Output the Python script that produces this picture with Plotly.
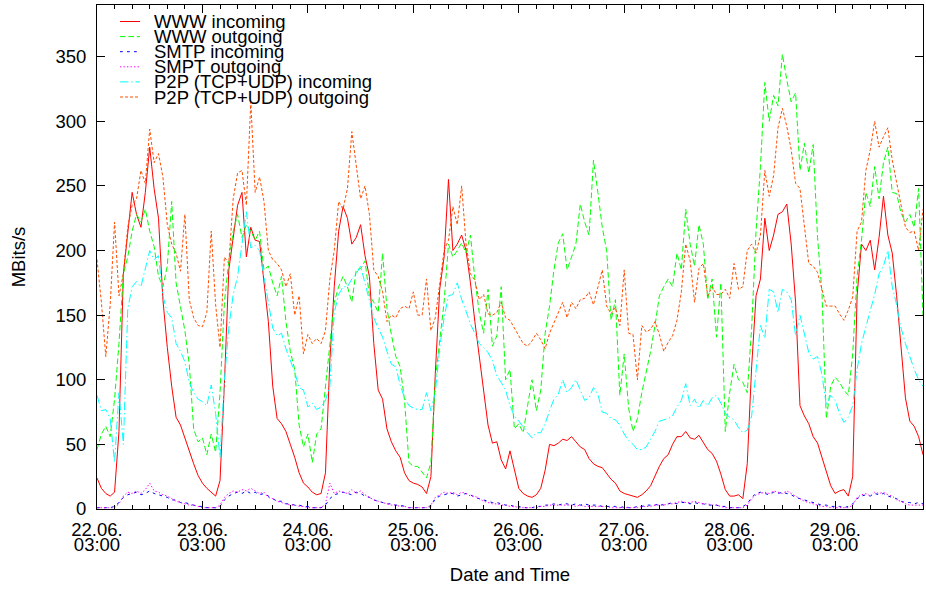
import pandas as pd
import plotly.graph_objects as go

# ---------------- data (hourly samples starting 22.06. 03:00) ----------------
START = "2008-06-22 03:00"
N_HOURS = 189

www_in = [
    24, 16, 12, 10, 13, 60, 182, 213, 245, 228, 218, 245, 280, 248, 225, 162, 125, 95, 71, 65, 55, 44, 35, 26,
    20, 16, 13, 10, 22, 97, 185, 210, 235, 245, 195, 218, 208, 207, 178, 145, 95, 70, 66, 60, 50, 40, 28, 20,
    17, 13, 11, 12, 28, 115, 172, 215, 234, 225, 205, 210, 220, 196, 180, 128, 92, 85, 62, 52, 45, 40, 28, 22,
    20, 19, 17, 12, 25, 105, 170, 195, 255, 200, 205, 212, 200, 175, 145, 118, 92, 65, 51, 52, 38, 31, 45, 30,
    16, 12, 10, 9, 11, 16, 30, 50, 49, 51, 54, 53, 56, 52, 48, 46, 39, 35, 33, 32, 27, 23, 20, 14,
    12, 11, 10, 9, 11, 14, 18, 26, 33, 39, 42, 50, 56, 56, 60, 55, 54, 57, 52, 46, 43, 37, 27, 15,
    10, 10, 11, 8, 35, 110, 165, 178, 225, 200, 212, 228, 230, 236, 205, 160, 80, 72, 66, 56, 51, 40, 28, 18,
    12, 14, 15, 10, 25, 165, 205, 200, 208, 185, 210, 242, 212, 198, 165, 128, 86, 68, 64, 56, 42,
]

www_out = [
    46, 58, 64, 56, 85, 128, 182, 195, 215, 228, 222, 232, 215, 203, 180, 172, 188, 238, 175, 155, 138, 112, 62, 52,
    55, 42, 58, 44, 90, 160, 192, 215, 228, 210, 220, 215, 208, 215, 185, 188, 175, 165, 180, 145, 122, 108, 65, 48,
    58, 36, 58, 62, 95, 130, 160, 172, 180, 172, 160, 185, 186, 192, 165, 160, 152, 198, 155, 135, 118, 110, 84, 36,
    33, 33, 28, 24, 36, 100, 130, 160, 205, 195, 200, 206, 198, 212, 178, 152, 136, 170, 126, 134, 172, 100, 108, 62,
    66, 59, 80, 100, 76, 92, 136, 157, 185, 206, 213, 185, 195, 205, 236, 222, 212, 270, 245, 218, 200, 146, 162, 88,
    120, 78, 60, 70, 90, 105, 122, 142, 165, 172, 178, 172, 198, 185, 232, 205, 188, 220, 205, 162, 178, 133, 175, 60,
    90, 112, 100, 98, 90, 140, 215, 265, 330, 300, 320, 312, 352, 332, 315, 322, 262, 283, 260, 282, 210, 168, 70, 95,
    102, 98, 92, 88, 120, 180, 208, 245, 234, 265, 240, 268, 280, 245, 244, 229, 222, 228, 218, 248, 150,
]

smtp_in = [
    1, 1, 1, 1, 2, 5, 9, 11, 12, 13, 11, 12, 14, 12, 11, 10, 9, 7, 7, 5, 5, 4, 3, 2,
    2, 1, 1, 1, 2, 7, 10, 12, 13, 12, 14, 12, 13, 11, 12, 10, 8, 6, 6, 4, 4, 3, 3, 2,
    2, 1, 1, 1, 3, 8, 11, 12, 13, 12, 11, 13, 12, 10, 9, 7, 6, 5, 4, 4, 3, 3, 2, 1,
    1, 1, 1, 1, 2, 8, 10, 11, 12, 12, 10, 11, 12, 11, 9, 8, 7, 6, 5, 5, 4, 3, 3, 2,
    2, 1, 1, 1, 2, 2, 3, 3, 4, 3, 4, 4, 3, 4, 3, 4, 3, 3, 3, 2, 2, 2, 2, 1,
    2, 1, 1, 2, 2, 3, 3, 3, 4, 3, 4, 5, 4, 5, 5, 4, 5, 4, 4, 3, 3, 3, 2, 2,
    1, 1, 1, 2, 4, 9, 12, 13, 12, 11, 13, 12, 13, 12, 11, 9, 8, 7, 6, 5, 4, 3, 3, 2,
    2, 2, 1, 2, 4, 8, 10, 11, 10, 12, 11, 12, 10, 9, 8, 6, 5, 5, 4, 5, 4,
]

smtp_out = [
    1, 1, 1, 1, 1, 4, 10, 13, 12, 14, 12, 15, 20, 14, 13, 11, 10, 8, 6, 5, 4, 3, 3, 2,
    1, 1, 1, 1, 3, 9, 12, 14, 13, 15, 14, 16, 14, 12, 13, 9, 8, 6, 5, 4, 3, 3, 2, 2,
    1, 1, 1, 1, 4, 20, 12, 14, 13, 12, 15, 12, 14, 11, 9, 7, 6, 5, 4, 3, 3, 2, 2, 1,
    1, 1, 1, 1, 3, 9, 11, 13, 12, 13, 11, 13, 12, 10, 10, 8, 6, 5, 4, 4, 3, 3, 2, 2,
    1, 1, 1, 1, 1, 2, 2, 3, 3, 3, 3, 3, 3, 2, 3, 2, 2, 2, 2, 2, 2, 1, 1, 1,
    1, 1, 1, 1, 2, 2, 2, 3, 3, 3, 4, 4, 5, 6, 5, 5, 6, 5, 4, 4, 3, 3, 2, 1,
    1, 1, 1, 1, 3, 8, 11, 12, 13, 12, 14, 13, 12, 14, 12, 10, 8, 6, 5, 4, 3, 2, 2, 1,
    1, 1, 1, 1, 3, 9, 11, 12, 10, 13, 12, 13, 11, 10, 7, 6, 4, 3, 3, 3, 3,
]

p2p_in = [
    88, 76, 77, 70, 36, 90, 50, 155, 172, 176, 172, 185, 200, 193, 196, 165, 152, 148, 128, 122, 114, 98, 90, 85,
    83, 80, 96, 74, 40, 100, 140, 166, 180, 205, 230, 202, 204, 200, 180, 158, 140, 134, 136, 124, 115, 106, 94, 92,
    79, 82, 77, 79, 84, 95, 152, 166, 172, 172, 178, 182, 188, 175, 160, 148, 140, 133, 122, 112, 110, 96, 86, 80,
    78, 77, 77, 90, 76, 90, 125, 148, 165, 166, 175, 162, 153, 143, 136, 128, 125, 121, 115, 103, 98, 92, 80, 72,
    68, 63, 59, 55, 59, 59, 66, 76, 85, 89, 100, 90, 94, 100, 92, 84, 86, 94, 89, 75, 74, 70, 69, 65,
    58, 53, 50, 46, 46, 48, 54, 60, 68, 69, 70, 72, 79, 84, 97, 80, 85, 78, 84, 80, 86, 88, 82, 74,
    71, 69, 63, 59, 61, 72, 110, 142, 132, 170, 168, 152, 170, 168, 162, 134, 150, 136, 121, 116, 118, 104, 80, 88,
    84, 74, 67, 71, 80, 108, 128, 141, 153, 166, 182, 188, 200, 172, 158, 140, 128, 118, 108, 100, 95,
]

p2p_out = [
    193, 160, 118, 158, 222, 165, 182, 218, 235, 240, 262, 252, 294, 268, 275, 257, 220, 205, 198, 184, 228, 162, 148, 142,
    141, 152, 215, 158, 125, 195, 190, 240, 260, 262, 235, 315, 245, 257, 238, 200, 193, 190, 185, 172, 182, 150, 165, 120,
    135, 128, 132, 128, 138, 178, 200, 238, 232, 248, 292, 265, 240, 250, 228, 185, 180, 168, 145, 150, 148, 155, 157, 155,
    168, 150, 150, 178, 138, 148, 172, 200, 208, 234, 220, 250, 205, 182, 177, 162, 166, 151, 150, 152, 160, 148, 146, 140,
    134, 128, 126, 130, 136, 131, 124, 136, 144, 152, 160, 148, 160, 155, 162, 163, 168, 158, 172, 185, 157, 151, 156, 142,
    185, 136, 135, 100, 142, 137, 139, 145, 135, 122, 129, 134, 146, 168, 205, 192, 160, 186, 190, 165, 172, 166, 166, 170,
    163, 190, 170, 172, 200, 205, 198, 212, 262, 242, 258, 295, 310, 296, 278, 252, 248, 220, 190, 188, 183, 170, 157, 157,
    157, 151, 146, 154, 164, 215, 222, 262, 278, 300, 280, 288, 295, 270, 252, 236, 218, 214, 215, 200, 232,
]

series_names = ["WWW incoming", "WWW outgoing", "SMTP incoming", "SMPT outgoing",
                "P2P (TCP+UDP) incoming", "P2P (TCP+UDP) outgoing"]
series_values = [www_in, www_out, smtp_in, smtp_out, p2p_in, p2p_out]

day_labels = ["22.06.", "23.06.", "24.06.", "25.06.", "26.06.", "27.06.", "28.06.", "29.06."]
hour_label = "03:00"

# ---------------- styles ----------------
colors = ["#ff0000", "#00ff00", "#0000ff", "#ff00ff", "#00ffff", "#ff4d00"]
dashes = ["solid", "5.6px,2.8px", "2.8px,4.2px", "1.4px,2.1px",
          "8.4px,2.8px,1.4px,2.8px", "3px,2px"]
FONT = "Liberation Sans, Arial, Helvetica, sans-serif"
FS = 18.5

for name, vals in zip(series_names, series_values):
    assert len(vals) == N_HOURS, (name, len(vals))

times = pd.date_range(START, periods=N_HOURS, freq="h")
tick_times = pd.date_range(START, periods=len(day_labels), freq="D")
x_range = [times[0], times[-1]]

fig = go.Figure()
for name, vals, col, dash in zip(series_names, series_values, colors, dashes):
    fig.add_trace(go.Scatter(x=times, y=vals, mode="lines", name=name,
                             line=dict(color=col, width=1, dash=dash),
                             showlegend=False, hoverinfo="skip"))

# empty helper trace so the second (time-of-day) label row axis gets drawn
fig.add_trace(go.Scatter(x=[], y=[], xaxis="x2", yaxis="y", mode="lines",
                         showlegend=False, hoverinfo="skip"))

# plot-area geometry in pixels (for the hand-drawn key)
W, H = 926, 589
ML, MR, MT, MB = 97, 3, 5, 80
PW, PH = W - ML - MR, H - MT - MB


def px_x(px):
    return (px - ML) / PW


def px_y(py):
    return (H - MB - py) / PH


shapes = []
annotations = []
for i, (name, col, dash) in enumerate(zip(series_names, colors, dashes)):
    yy = px_y(21.5 + i * 15.1)
    shapes.append(dict(type="line", xref="paper", yref="paper",
                       x0=px_x(120), x1=px_x(140), y0=yy, y1=yy,
                       line=dict(color=col, width=1, dash=dash)))
    annotations.append(dict(xref="paper", yref="paper", x=px_x(151.5), y=yy,
                            xanchor="left", yanchor="middle", showarrow=False,
                            text=name, font=dict(family=FONT, size=FS, color="#000")))

axis_common = dict(showline=True, linecolor="#000", linewidth=1, mirror="ticks",
                   ticks="inside", tickcolor="#000", tickwidth=1, ticklen=8,
                   showgrid=False, zeroline=False,
                   tickfont=dict(family=FONT, size=FS, color="#000"))

fig.update_layout(
    width=W, height=H,
    margin=dict(l=ML, r=MR, t=MT, b=MB),
    paper_bgcolor="white", plot_bgcolor="white",
    font=dict(family=FONT, size=FS, color="#000"),
    showlegend=False,
    shapes=shapes,
    annotations=annotations,
    xaxis=dict(
        axis_common, type="date", range=x_range,
        tickmode="array", tickvals=tick_times, ticktext=day_labels,
        ticklabelstandoff=4,
        minor=dict(ticks="inside", ticklen=4, tickcolor="#000", tickwidth=1,
                   dtick=4 * 3600 * 1000, tick0=START, showgrid=False),
        title=dict(text="Date and Time", font=dict(family=FONT, size=FS, color="#000"), standoff=28),
    ),
    xaxis2=dict(
        overlaying="x", anchor="y", side="bottom", type="date", range=x_range,
        tickmode="array", tickvals=tick_times, ticktext=[hour_label] * len(day_labels),
        showline=False, ticks="", showgrid=False, zeroline=False,
        ticklabelstandoff=22,
        tickfont=dict(family=FONT, size=FS, color="#000"),
    ),
    yaxis=dict(
        axis_common, range=[0, 390], tickmode="linear", tick0=0, dtick=50,
        ticklabelstandoff=6,
        title=dict(text="MBits/s", font=dict(family=FONT, size=FS, color="#000"), standoff=24),
    ),
)

fig.write_html("out.html")
